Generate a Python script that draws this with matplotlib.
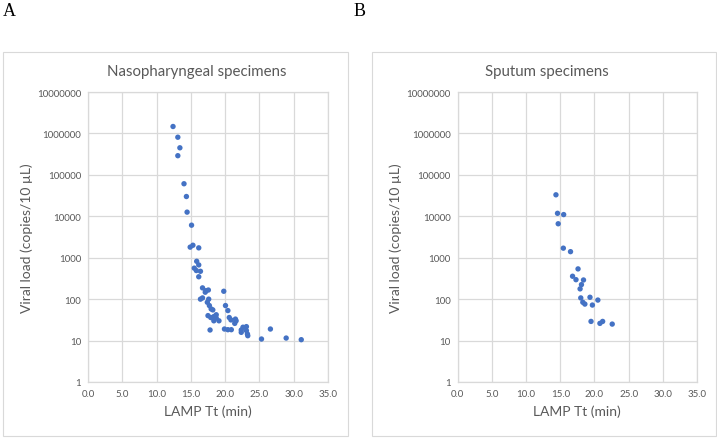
import matplotlib
matplotlib.use("Agg")
import matplotlib.pyplot as plt
from matplotlib.patches import Rectangle
from matplotlib.ticker import FixedLocator, FixedFormatter

# ---- data ----
np_tt = [12.4, 13.1, 13.4, 13.1, 14.0, 14.35, 14.45, 15.1, 15.3, 14.9, 16.15,
         15.85, 16.15, 15.5, 15.8, 16.4, 16.15, 16.7, 17.2, 17.55, 17.1, 19.8,
         16.4, 16.7, 17.6, 17.4, 17.7, 20.05, 17.96, 20.4, 17.5, 17.9, 18.35,
         18.7, 20.6, 20.85, 19.1, 18.35, 21.6, 21.4, 23.1, 22.6, 17.8, 19.9,
         20.4, 22.35, 23.1, 23.25, 21.5, 20.9, 22.35, 23.3, 26.6, 25.3, 28.9,
         31.1, 18.7, 18.2]
np_load = [1.47e6, 8.1e5, 4.5e5, 2.9e5, 6.1e4, 3.0e4, 1.26e4, 6.1e3, 2.0e3, 1.8e3, 1.73e3,
           820, 670, 560, 490, 470, 347, 187, 160, 166, 147, 155,
           100, 107, 100, 84, 70, 70, 58, 53, 40, 36, 38,
           35, 36, 31.5, 30, 30, 30, 26, 21.7, 21, 18, 19,
           18.3, 18, 17.4, 14.4, 33, 18.3, 15.8, 13.1, 19, 10.9, 11.5,
           10.5, 42, 55]

sp_tt = [14.37, 14.6, 15.5, 14.7, 15.45, 16.5, 17.6, 16.8, 17.3, 18.4, 18.1,
         17.9, 18.0, 19.35, 20.5, 18.3, 18.6, 19.7, 19.5, 20.8, 21.2, 22.6]
sp_load = [3.3e4, 1.18e4, 1.1e4, 6.6e3, 1.7e3, 1.4e3, 537, 357, 295, 290, 224,
           177, 107, 111, 95, 84, 76, 72, 29, 26, 29, 25]

titles = ["Nasopharyngeal specimens", "Sputum specimens"]
panel_letters = ["A", "B"]
xlabel = "LAMP Tt (min)"
ylabel = "Viral load (copies/10 µL)"
xticks = [0, 5, 10, 15, 20, 25, 30, 35]
xticklabels = ["0.0", "5.0", "10.0", "15.0", "20.0", "25.0", "30.0", "35.0"]
yticks = [1, 10, 100, 1000, 10000, 100000, 1000000, 10000000]
yticklabels = ["1", "10", "100", "1000", "10000", "100000", "1000000", "10000000"]

W, H = 717, 439
fig = plt.figure(figsize=(W / 100, H / 100), dpi=100)
plt.rcParams['font.family'] = ['Lato', 'DejaVu Sans']

def fx(px):
    return px / W

def fy(py):
    return 1 - py / H

grid_c = "#D9D9D9"
text_c = "#595959"
dot_c = "#4472C4"

panels = [
    dict(box=(3, 53, 348, 437), ax=(88, 93, 328, 383), x=np_tt, y=np_load,
         title_x=197, letter_x=3),
    dict(box=(372, 53, 716, 437), ax=(457.7, 93, 697, 383), x=sp_tt, y=sp_load,
         title_x=547, letter_x=354),
]

for i, p in enumerate(panels):
    bx0, by0, bx1, by1 = p["box"]
    fig.patches.append(Rectangle((fx(bx0), fy(by1)), fx(bx1 - bx0), (by1 - by0) / H,
                                 transform=fig.transFigure, fill=False,
                                 edgecolor=grid_c, linewidth=0.8))
    ax0, ay0, ax1, ay1 = p["ax"]
    ax = fig.add_axes([fx(ax0), fy(ay1), fx(ax1 - ax0), (ay1 - ay0) / H])
    ax.scatter(p["x"], p["y"], s=15, color=dot_c, edgecolors="none", zorder=3)
    ax.set_yscale("log")
    ax.set_xlim(0, 35)
    ax.set_ylim(1, 1e7)
    ax.xaxis.set_major_locator(FixedLocator(xticks))
    ax.xaxis.set_major_formatter(FixedFormatter(xticklabels))
    ax.yaxis.set_major_locator(FixedLocator(yticks))
    ax.yaxis.set_major_formatter(FixedFormatter(yticklabels))
    ax.yaxis.set_minor_locator(FixedLocator([]))
    ax.grid(True, color=grid_c, linewidth=0.9)
    ax.set_axisbelow(True)
    for s in ax.spines.values():
        s.set_color(grid_c)
        s.set_linewidth(0.9)
    ax.tick_params(length=0, labelsize=7, colors=text_c, pad=5)
    for lab in ax.get_xticklabels() + ax.get_yticklabels():
        lab.set_color(text_c)
    cx = (ax0 + ax1) / 2
    fig.text(fx(p["title_x"]), fy(72), titles[i], ha="center", va="center",
             fontsize=10.8, color=text_c)
    fig.text(fx(cx), fy(412), xlabel, ha="center", va="center", fontsize=10, color=text_c)
    fig.text(fx(bx0 + 24), fy((ay0 + ay1) / 2), ylabel, ha="center", va="center",
             rotation=90, fontsize=10, color=text_c)
    fig.text(fx(p["letter_x"]), fy(11), panel_letters[i], ha="left",
             va="center", fontsize=13, family="Liberation Serif", color="black")

fig.savefig("out.png", dpi=100)
